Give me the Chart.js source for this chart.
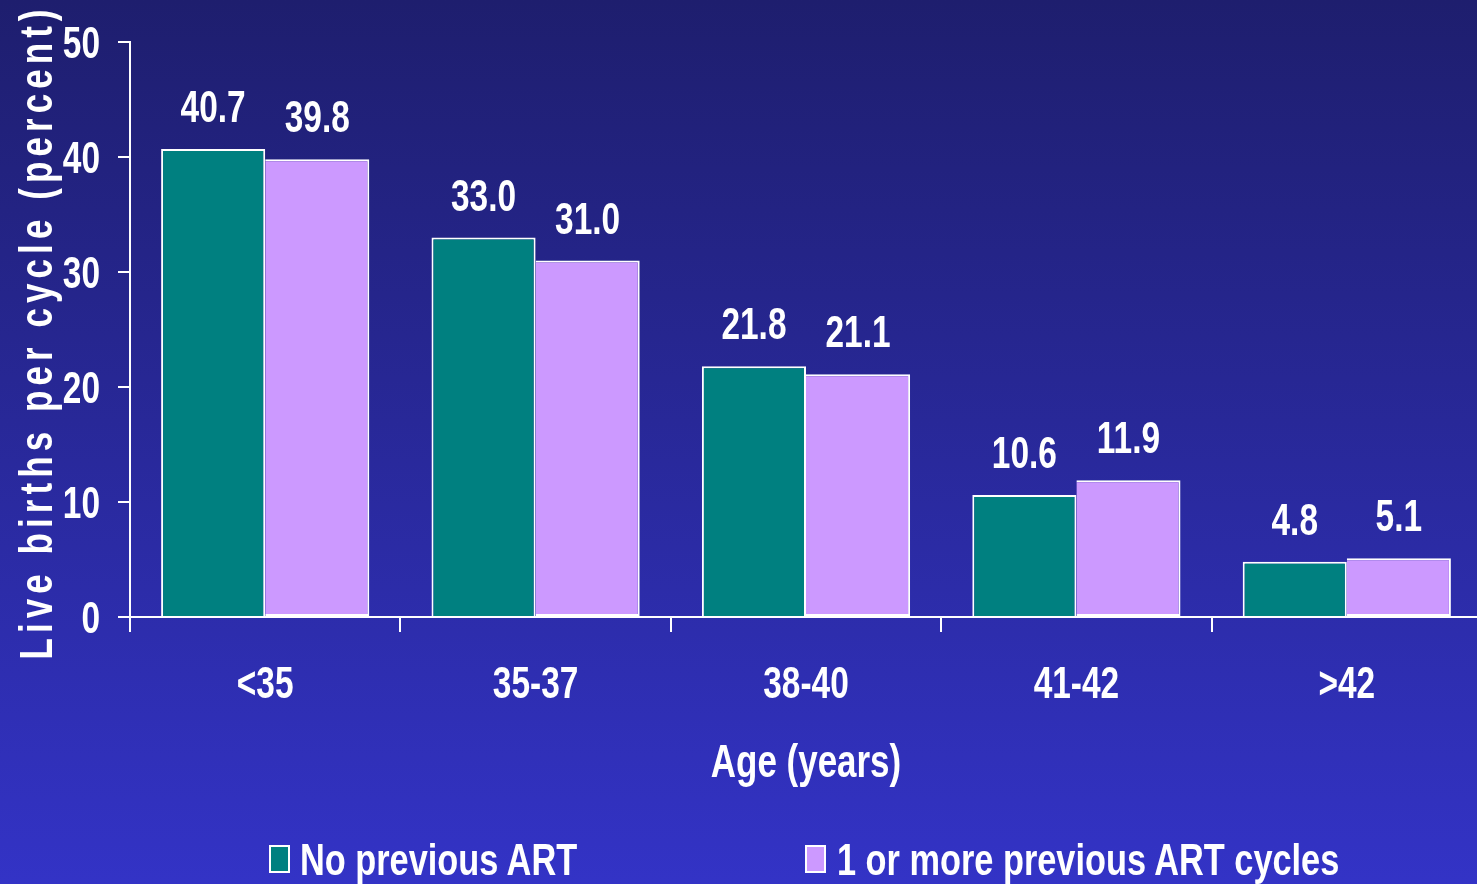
<!DOCTYPE html>
<html>
<head>
<meta charset="utf-8">
<title>Live births per cycle by age</title>
<script src="https://cdn.jsdelivr.net/npm/chart.js@4.4.1/dist/chart.umd.min.js"></script>
<style>
  html, body {
    margin: 0;
    padding: 0;
    width: 1477px;
    height: 884px;
    overflow: hidden;
    background: linear-gradient(to bottom, #1e1e6e 0%, #3333c6 100%);
  }
  #wrap { position: relative; width: 1477px; height: 884px; overflow: hidden; }
  #chart { position: absolute; left: 0; top: 0; }
  .swatch {
    position: absolute;
    top: 845px;
    width: 17px;
    height: 24px;
    border: 2px solid #fff;
  }
  .legend-text {
    position: absolute;
    top: 835px;
    color: #fff;
    font: bold 44px "Liberation Sans", Arial, sans-serif;
    line-height: 50px;
    white-space: nowrap;
    transform: scaleX(0.78);
    transform-origin: 0 0;
  }
</style>
</head>
<body>
<div id="wrap">
  <canvas id="chart" width="1482" height="884"></canvas>
  <div id="legend"></div>
</div>
<script>
// Categories and series
const ageGroups = ['<35', '35-37', '38-40', '41-42', '>42'];
const noPreviousArt = [40.7, 33.0, 21.8, 10.6, 4.8];
const previousArtCycles = [39.8, 31.0, 21.1, 11.9, 5.1];
const seriesNames = ['No previous ART', '1 or more previous ART cycles'];
const yTickValues = [0, 10, 20, 30, 40, 50];
const xTitle = 'Age (years)';
const yTitle = 'Live births per cycle (percent)';

const TEAL = '#008080';
const LILAC = '#cc99ff';
const WHITE = '#ffffff';
const SANS = '"Liberation Sans", Arial, sans-serif';
const SQUEEZE = 0.76;   // horizontal compression giving a narrow bold face

// Draw a horizontally condensed string anchored at (x, y)
function narrowText(ctx, text, x, y, size, align, baseline) {
  ctx.save();
  ctx.font = 'bold ' + size + 'px ' + SANS;
  ctx.fillStyle = WHITE;
  ctx.textAlign = align;
  ctx.textBaseline = baseline;
  ctx.translate(x, y);
  ctx.scale(SQUEEZE, 1);
  ctx.fillText(text, 0, 0);
  ctx.restore();
}

// Tick labels and x-axis title
const axisText = {
  id: 'axisText',
  afterDraw(chart) {
    const ctx = chart.ctx;
    const xs = chart.scales.x;
    const ys = chart.scales.y;
    const area = chart.chartArea;
    ageGroups.forEach((label, i) => {
      narrowText(ctx, label, xs.getPixelForValue(i), area.bottom + 81, 44, 'center', 'alphabetic');
    });
    yTickValues.forEach(v => {
      narrowText(ctx, String(v), area.left - 30, ys.getPixelForValue(v) + 16, 44, 'right', 'alphabetic');
    });
    narrowText(ctx, xTitle, (area.left + area.right) / 2, area.bottom + 160, 46, 'center', 'alphabetic');
  }
};

// Value labels above each bar
const valueLabels = {
  id: 'valueLabels',
  afterDatasetsDraw(chart) {
    const ctx = chart.ctx;
    chart.data.datasets.forEach((ds, i) => {
      chart.getDatasetMeta(i).data.forEach((bar, j) => {
        narrowText(ctx, ds.data[j].toFixed(1), bar.x, bar.y - 27, 44, 'center', 'alphabetic');
      });
    });
  }
};

// Rotated, letter-spaced y-axis title
const yAxisTitle = {
  id: 'yAxisTitle',
  afterDraw(chart) {
    const ctx = chart.ctx;
    const area = chart.chartArea;
    const centerY = (area.top + area.bottom) / 2 + 5;
    const span = 650;
    ctx.save();
    ctx.font = 'bold 46px ' + SANS;
    ctx.fillStyle = WHITE;
    ctx.textBaseline = 'alphabetic';
    ctx.textAlign = 'left';
    const plain = ctx.measureText(yTitle).width * SQUEEZE;
    const spacing = Math.max(0, (span - plain) / (yTitle.length - 1)) / SQUEEZE;
    ctx.letterSpacing = spacing + 'px';
    ctx.translate(52, centerY);
    ctx.rotate(-Math.PI / 2);
    ctx.scale(SQUEEZE, 1);
    ctx.fillText(yTitle, -span / 2 / SQUEEZE, 0);
    ctx.restore();
  }
};

const chart = new Chart(document.getElementById('chart'), {
  type: 'bar',
  data: {
    labels: ageGroups,
    datasets: [
      {
        label: seriesNames[0],
        data: noPreviousArt,
        backgroundColor: TEAL,
        borderColor: WHITE,
        borderWidth: 2,
        borderSkipped: 'start',
        categoryPercentage: 0.77,
        barPercentage: 1.0
      },
      {
        label: seriesNames[1],
        data: previousArtCycles,
        backgroundColor: LILAC,
        borderColor: WHITE,
        borderWidth: 2,
        borderSkipped: 'left',
        categoryPercentage: 0.77,
        barPercentage: 1.0
      }
    ]
  },
  options: {
    responsive: false,
    animation: false,
    devicePixelRatio: 1,
    layout: { padding: { top: 42, left: 0, right: 0, bottom: 54 } },
    plugins: {
      legend: { display: false },
      tooltip: { enabled: false },
      title: { display: false }
    },
    scales: {
      x: {
        offset: true,
        grid: {
          offset: true,
          drawOnChartArea: false,
          drawTicks: true,
          tickLength: 15,
          color: WHITE,
          lineWidth: 2
        },
        border: { display: true, color: WHITE, width: 2 },
        ticks: { display: false },
        afterFit(scale) { scale.height = 213; }
      },
      y: {
        min: 0,
        max: 50,
        afterBuildTicks(scale) {
          scale.ticks = yTickValues.map(v => ({ value: v }));
        },
        grid: {
          drawOnChartArea: false,
          drawTicks: true,
          tickLength: 12,
          color: WHITE,
          lineWidth: 2
        },
        border: { display: true, color: WHITE, width: 2 },
        ticks: { display: false },
        afterFit(scale) { scale.width = 130; }
      }
    }
  },
  plugins: [valueLabels, axisText, yAxisTitle]
});

// Legend below the plot
const legendEl = document.getElementById('legend');
const swatchLeft = [269, 805];
const textLeft = [300, 837];
[TEAL, LILAC].forEach((color, i) => {
  const sw = document.createElement('div');
  sw.className = 'swatch';
  sw.style.left = swatchLeft[i] + 'px';
  sw.style.background = color;
  const txt = document.createElement('div');
  txt.className = 'legend-text';
  txt.style.left = textLeft[i] + 'px';
  txt.textContent = seriesNames[i];
  legendEl.appendChild(sw);
  legendEl.appendChild(txt);
});
</script>
</body>
</html>
